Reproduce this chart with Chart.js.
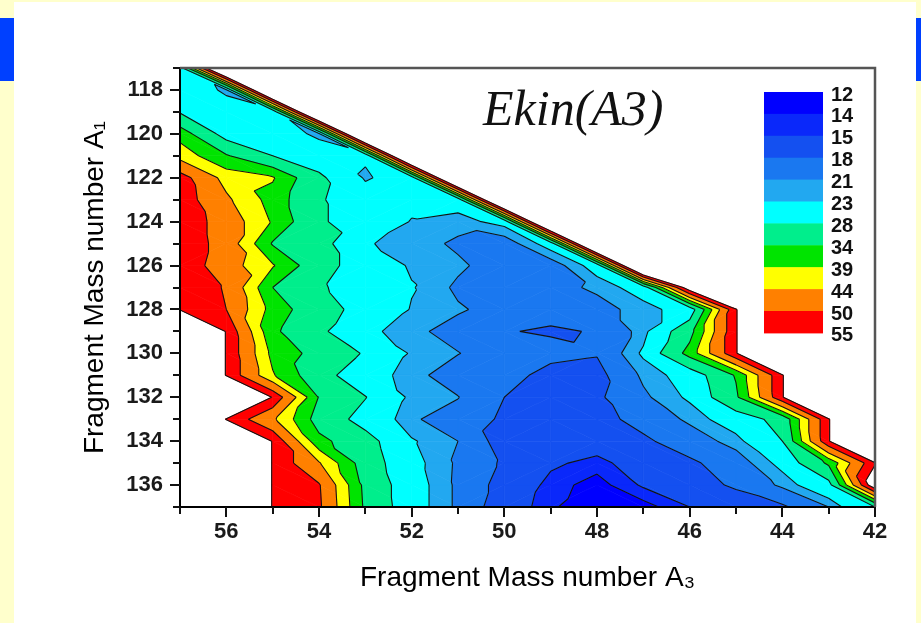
<!DOCTYPE html>
<html>
<head>
<meta charset="utf-8">
<script src="https://cdn.jsdelivr.net/npm/chart.js@4.4.1/dist/chart.umd.min.js"></script>
<style>
  html, body { margin: 0; padding: 0; }
  body { width: 921px; height: 623px; background: #ffffcc; position: relative; overflow: hidden; }
  .panel { position: absolute; left: 14px; top: 2px; width: 902px; height: 621px; background: #fff; }
  .bar { position: absolute; top: 18px; height: 63px; background: #0040ff; }
  #chart { position: absolute; left: 0; top: 0; }
</style>
</head>
<body>
<div class="panel"></div>
<div class="bar" style="left:0;width:14px"></div>
<div class="bar" style="left:916px;width:5px"></div>
<canvas id="chart" width="921" height="623"></canvas>
<script>
// Ekin(A3) contour map: values on the integer (A3, A1) lattice, filled bands between levels.

const A3 = [57, 56, 55, 54, 53, 52, 51, 50, 49, 48, 47, 46, 45, 44, 43, 42];
const A1 = [117, 118, 119, 120, 121, 122, 123, 124, 125, 126, 127, 128, 129, 130, 131, 132, 133, 134, 135, 136, 137];

// above the top level -> left white (no band)
const H = 78;

// one row per A1, columns follow A3 above
const row117 = [25, H, H, H, H, H, H, H, H, H, H, H, H, H, H, H];
const row118 = [26, 22.3, H, H, H, H, H, H, H, H, H, H, H, H, H, H];
const row119 = [27.5, 25, 23.4, H, H, H, H, H, H, H, H, H, H, H, H, H];
const row120 = [37, 25.5, 25, 22.3, H, H, H, H, H, H, H, H, H, H, H, H];
const row121 = [42, 34.5, 28, 25, 23.4, H, H, H, H, H, H, H, H, H, H, H];
const row122 = [52.5, 42, 39.5, 29, 22.6, 25, H, H, H, H, H, H, H, H, H, H];
const row123 = [53, 45, 37, 28.5, 25, 24, 24.5, H, H, H, H, H, H, H, H, H];
const row124 = [53.5, 47.5, 38.5, 28.5, 26, 22.8, 22, 24, H, H, H, H, H, H, H, H];
const row125 = [54, 47.5, 33.5, 30, 23.2, 22.2, 20.5, 19.5, 24.5, H, H, H, H, H, H, H];
const row126 = [54, 46.5, 39.5, 30, 25.5, 22.6, 21.5, 19.5, 19.5, 24.5, H, H, H, H, H, H];
const row127 = [54, 49.5, 34, 28.5, 26, 23.2, 20.5, 19.5, 20, 21.5, 24.5, 60, H, H, H, H];
const row128 = [54.5, 50, 37, 30, 26.3, 22.8, 21.3, 20, 18.6, 20, 22, 24.5, 54.5, H, H, H];
const row129 = [H, 54.5, 35, 29, 23.8, 21.6, 20, 18.1, 17.8, 18.1, 22, 32, 54.5, H, H, H];
const row130 = [H, 54.5, 37.5, 32, 27.5, 22.6, 21.1, 19.5, 18.6, 18.2, 23.5, 36, 54.5, H, H, H];
const row131 = [H, 54.5, 39.5, 30, 24.7, 21.8, 19.6, 18.8, 17.3, 17, 21.5, 24.5, 34.5, 54.5, H, H];
const row132 = [H, H, 54.5, 33.8, 28.2, 22.2, 21.1, 18, 16.5, 17.5, 20.5, 23.5, 33, 54.5, H, H];
const row133 = [H, 54.5, 45, 31.5, 26, 21.3, 19.8, 17.5, 16.5, 17, 19, 21.5, 25, 30, 54.5, H];
const row134 = [H, H, 54.5, 35.5, 30, 23.3, 21, 16.4, 15.5, 16, 17.5, 19.5, 22, 28, 54.5, H];
const row135 = [H, H, 54.5, 44.5, 31, 24, 20.6, 17.5, 15.3, 14.5, 16, 17.5, 19.5, 24, 35, 54.5];
const row136 = [H, H, 54.5, 50.5, 32.5, 24.5, 20.5, 16.7, 14.5, 13.5, 15.2, 16.5, 18.5, 21.5, 26, 60];
const row137 = [H, H, 54.5, 51, 33, 24.5, 20.5, 16, 14.3, 12.5, 13.5, 15, 16, 17.5, 21, 28];

const EKIN = [row117, row118, row119, row120, row121, row122, row123, row124, row125, row126,
  row127, row128, row129, row130, row131, row132, row133, row134, row135, row136, row137];

const LEVELS = [12, 14, 15, 18, 21, 23, 28, 34, 39, 44, 50, 55];
const X_TICKS = [42, 43, 44, 45, 46, 47, 48, 49, 50, 51, 52, 53, 54, 55, 56, 57];
const Y_TICKS = [117, 118, 119, 120, 121, 122, 123, 124, 125, 126, 127, 128, 129, 130, 131, 132, 133, 134, 135, 136, 137];

const BAND_COLORS = ['#0000ff', '#0a28fa', '#1450f0', '#1a78f0', '#22a8f0', '#00ffff',
  '#00ee8c', '#00e400', '#ffff00', '#ff8000', '#ff0000'];

const FONT = 'Liberation Sans, Arial, sans-serif';

function pt(i, j) {
  return { x: A3[j], y: A1[i], v: EKIN[i][j] };
}

// split each lattice square along the diagonal whose corners differ least
function buildTriangles() {
  const tris = [];
  for (let i = 0; i < A1.length - 1; i++) {
    for (let j = 0; j < A3.length - 1; j++) {
      const tl = pt(i, j), tr = pt(i, j + 1), bl = pt(i + 1, j), br = pt(i + 1, j + 1);
      if (Math.abs(tl.v - br.v) <= Math.abs(tr.v - bl.v)) {
        tris.push([tl, tr, br], [tl, br, bl]);
      } else {
        tris.push([tl, tr, bl], [tr, br, bl]);
      }
    }
  }
  return tris;
}

function clipPoly(poly, level, keepAbove) {
  const out = [];
  for (let i = 0; i < poly.length; i++) {
    const p = poly[i], q = poly[(i + 1) % poly.length];
    const pin = keepAbove ? p.v >= level : p.v <= level;
    const qin = keepAbove ? q.v >= level : q.v <= level;
    if (pin) out.push(p);
    if (pin !== qin) {
      const t = (level - p.v) / (q.v - p.v);
      out.push({ x: p.x + t * (q.x - p.x), y: p.y + t * (q.y - p.y), v: level });
    }
  }
  return out;
}

const contourPlugin = {
  id: 'contour',
  beforeDraw(chart) {
    const { ctx, chartArea: ca, scales: { x, y } } = chart;
    const tris = buildTriangles();
    const toPx = (p) => [x.getPixelForValue(p.x), y.getPixelForValue(p.y)];
    ctx.save();
    ctx.beginPath();
    ctx.rect(ca.left, ca.top, ca.right - ca.left, ca.bottom - ca.top);
    ctx.clip();

    ctx.lineJoin = 'round';
    for (const t of tris) {
      for (let k = 0; k < BAND_COLORS.length; k++) {
        let poly = clipPoly(t, LEVELS[k], true);
        if (poly.length < 3) continue;
        poly = clipPoly(poly, LEVELS[k + 1], false);
        if (poly.length < 3) continue;
        ctx.beginPath();
        poly.forEach((p, n) => {
          const [px, py] = toPx(p);
          if (n) ctx.lineTo(px, py); else ctx.moveTo(px, py);
        });
        ctx.closePath();
        ctx.fillStyle = BAND_COLORS[k];
        ctx.strokeStyle = BAND_COLORS[k];
        ctx.lineWidth = 0.7;
        ctx.fill();
        ctx.stroke();
      }
    }

    // contour lines
    ctx.strokeStyle = '#141414';
    ctx.lineWidth = 1.1;
    ctx.beginPath();
    for (const t of tris) {
      for (const lv of LEVELS) {
        const cut = [];
        for (let n = 0; n < 3; n++) {
          const p = t[n], q = t[(n + 1) % 3];
          if ((p.v >= lv) !== (q.v >= lv)) {
            const s = (lv - p.v) / (q.v - p.v);
            cut.push({ x: p.x + s * (q.x - p.x), y: p.y + s * (q.y - p.y) });
          }
        }
        if (cut.length === 2) {
          const a = toPx(cut[0]), b = toPx(cut[1]);
          ctx.moveTo(a[0], a[1]);
          ctx.lineTo(b[0], b[1]);
        }
      }
    }
    ctx.stroke();
    ctx.restore();
  }
};

const decorPlugin = {
  id: 'decor',
  afterDraw(chart) {
    const { ctx, chartArea: ca, scales: { x, y } } = chart;
    ctx.save();

    // top and right frame
    ctx.strokeStyle = '#555';
    ctx.lineWidth = 2.5;
    ctx.beginPath();
    ctx.moveTo(ca.left, ca.top);
    ctx.lineTo(ca.right, ca.top);
    ctx.lineTo(ca.right, ca.bottom);
    ctx.stroke();

    // ticks: labelled ones longer
    ctx.strokeStyle = '#111';
    ctx.lineWidth = 2;
    ctx.beginPath();
    X_TICKS.forEach((v) => {
      const px = Math.round(x.getPixelForValue(v));
      ctx.moveTo(px, ca.bottom);
      ctx.lineTo(px, ca.bottom + (v % 2 === 0 ? 10 : 7));
    });
    Y_TICKS.forEach((v) => {
      const py = Math.round(y.getPixelForValue(v));
      ctx.moveTo(ca.left, py);
      ctx.lineTo(ca.left - (v % 2 === 0 ? 10 : 7), py);
    });
    ctx.stroke();

    // colour scale
    const barX = 764, barW = 59, barTop = 92, step = 21.9;
    BAND_COLORS.forEach((c, k) => {
      ctx.fillStyle = c;
      ctx.fillRect(barX, barTop + k * step, barW, step + 0.5);
    });
    ctx.fillStyle = '#111';
    ctx.font = 'bold 20px ' + FONT;
    ctx.textAlign = 'left';
    ctx.textBaseline = 'middle';
    LEVELS.forEach((lv, k) => {
      ctx.fillText(String(lv), 831, barTop + k * step + 3);
    });

    // plot label
    ctx.font = 'italic 50px "Liberation Serif", "Times New Roman", serif';
    ctx.textBaseline = 'alphabetic';
    ctx.fillStyle = '#111';
    ctx.fillText('Ekin(A3)', 483, 125);
    ctx.restore();
  }
};

const gridPoints = [];
A1.forEach((a1, i) => A3.forEach((a3, j) => gridPoints.push({ x: a3, y: a1, v: EKIN[i][j] })));

new Chart(document.getElementById('chart'), {
  type: 'scatter',
  data: { datasets: [{ label: 'Ekin', data: gridPoints, pointRadius: 0, pointHoverRadius: 0 }] },
  options: {
    responsive: false,
    animation: false,
    events: [],
    layout: { padding: { left: 0, top: 68, right: 46, bottom: 0 } },
    plugins: { legend: { display: false }, tooltip: { enabled: false } },
    scales: {
      x: {
        type: 'linear', min: 42, max: 57, reverse: true,
        afterFit: (s) => { s.height = 116; s.paddingLeft = 0; s.paddingRight = 0; },
        grid: { drawOnChartArea: false, drawTicks: false },
        border: { color: '#000', width: 2 },
        ticks: {
          stepSize: 1, autoSkip: false, maxRotation: 0, padding: 12, color: '#1a1a1a',
          font: { family: FONT, size: 22, weight: 'bold' },
          callback: (v) => (v % 2 === 0 ? String(v) : '')
        },
        title: {
          display: true, text: 'Fragment Mass number A₃', color: '#000',
          font: { family: FONT, size: 28 }, padding: { top: 0, bottom: 28 }
        }
      },
      y: {
        type: 'linear', min: 117, max: 137, reverse: true,
        afterFit: (s) => { s.width = 180; s.paddingTop = 0; s.paddingBottom = 0; },
        grid: { drawOnChartArea: false, drawTicks: false },
        border: { color: '#000', width: 2 },
        ticks: {
          stepSize: 1, autoSkip: false, padding: 17, color: '#1a1a1a',
          font: { family: FONT, size: 22, weight: 'bold' },
          callback: (v) => (v % 2 === 0 ? String(v) : '')
        },
        title: {
          display: true, text: 'Fragment Mass number A₁', color: '#000',
          font: { family: FONT, size: 28 }, padding: { top: 78, bottom: 0 }
        }
      }
    }
  },
  plugins: [contourPlugin, decorPlugin]
});
</script>
</body>
</html>
